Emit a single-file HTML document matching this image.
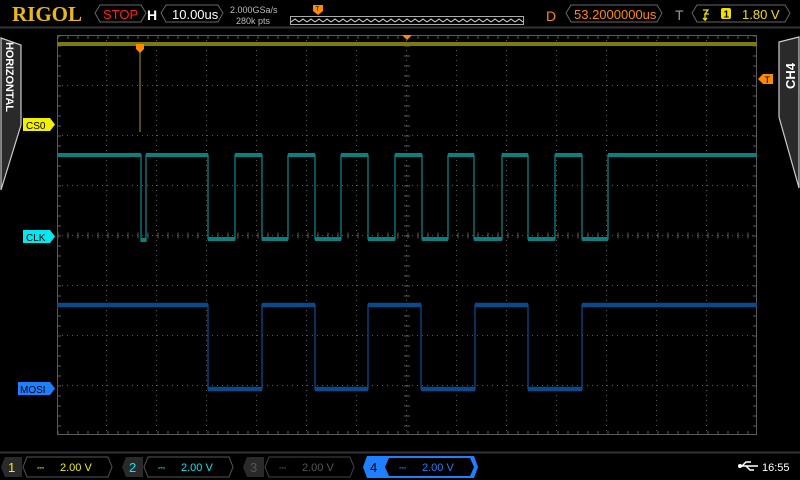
<!DOCTYPE html>
<html><head><meta charset="utf-8"><style>
html,body{margin:0;padding:0;background:#000;width:800px;height:480px;overflow:hidden}
svg{display:block}
</style></head><body>
<svg width="800" height="480" viewBox="0 0 800 480" xmlns="http://www.w3.org/2000/svg" font-family="Liberation Sans, sans-serif">
<defs>
<pattern id="zz" x="291" y="17" width="8" height="7" patternUnits="userSpaceOnUse">
<polyline points="0,5 4,2 8,5" fill="none" stroke="#ddd" stroke-width="1"/>
</pattern>
</defs>
<rect width="800" height="480" fill="#000"/>
<!-- top bar -->
<line x1="0" y1="27.5" x2="800" y2="27.5" stroke="#333" stroke-width="2"/>
<text x="12" y="21" style="font-family:'Liberation Serif',serif;font-weight:bold" font-size="21" fill="#e8b818" textLength="70" lengthAdjust="spacingAndGlyphs">RIGOL</text>
<path d="M100,5 H141 L146,13 L141,22 H100 L95,13 Z" fill="none" stroke="#666"/>
<text x="103" y="19" font-size="13" fill="#ff2020">STOP</text>
<text x="147" y="20" font-size="14" font-weight="bold" fill="#fff">H</text>
<path d="M166,5 H218 L223,13 L218,22 H166 L161,13 Z" fill="none" stroke="#666"/>
<text x="172" y="19" font-size="13" fill="#fff">10.00us</text>
<text x="230" y="13" font-size="9" fill="#bbb">2.000GSa/s</text>
<text x="236" y="24" font-size="9" fill="#bbb">280k pts</text>
<rect x="291" y="17" width="232" height="7" fill="url(#zz)"/>
<rect x="290.5" y="16.5" width="233" height="8" fill="none" stroke="#aaa"/>
<path d="M313,5 H323 V11 L318,15 L313,11 Z" fill="#ff8a00"/>
<text x="315.5" y="11" font-size="6" fill="#000">T</text>
<text x="546" y="21" font-size="14" fill="#ff8a00">D</text>
<path d="M571,5 H657 L662,13 L657,22 H571 L566,13 Z" fill="none" stroke="#666"/>
<text x="574" y="19" font-size="13" fill="#ff8a00">53.2000000us</text>
<text x="675" y="20" font-size="14" fill="#999">T</text>
<path d="M697,5 H785 L790,13 L785,22 H697 L692,13 Z" fill="none" stroke="#666"/>
<path d="M703,10 H708 L705,14 H709 M705,14 V20 L703,18 M705,20 L707,18" fill="none" stroke="#f0e000" stroke-width="1.3"/>
<rect x="721" y="8" width="10" height="11" rx="2" fill="#f0e000"/>
<text x="723.5" y="17.5" font-size="10" font-weight="bold" fill="#000">1</text>
<text x="742" y="19" font-size="13" fill="#f0e000">1.80 V</text>
<!-- side tabs -->
<path d="M1,38 L21,45 V125 L1,190 Z" fill="#2a2a2a" stroke="#ccc" stroke-width="1.2"/>
<text transform="translate(6,42) rotate(90)" font-size="11" font-weight="bold" fill="#fff" textLength="70">HORIZONTAL</text>
<path d="M799,37 L779,42 V117 L799,188 Z" fill="#2a2a2a" stroke="#ccc" stroke-width="1.2"/>
<text transform="translate(795,89) rotate(-90)" font-size="13" font-weight="bold" fill="#fff">CH4</text>
<!-- grid -->
<g stroke="#5a5a5a" stroke-dasharray="1 4">
<line x1="106.5" y1="35" x2="106.5" y2="435"/><line x1="156.5" y1="35" x2="156.5" y2="435"/>
<line x1="206.5" y1="35" x2="206.5" y2="435"/><line x1="256.5" y1="35" x2="256.5" y2="435"/>
<line x1="306.5" y1="35" x2="306.5" y2="435"/><line x1="356.5" y1="35" x2="356.5" y2="435"/>
<line x1="406.5" y1="35" x2="406.5" y2="435"/><line x1="456.5" y1="35" x2="456.5" y2="435"/>
<line x1="506.5" y1="35" x2="506.5" y2="435"/><line x1="556.5" y1="35" x2="556.5" y2="435"/>
<line x1="606.5" y1="35" x2="606.5" y2="435"/><line x1="656.5" y1="35" x2="656.5" y2="435"/>
<line x1="706.5" y1="35" x2="706.5" y2="435"/>
<line x1="57" y1="85.5" x2="757" y2="85.5"/><line x1="57" y1="135.5" x2="757" y2="135.5"/>
<line x1="57" y1="185.5" x2="757" y2="185.5"/><line x1="57" y1="235.5" x2="757" y2="235.5"/>
<line x1="57" y1="285.5" x2="757" y2="285.5"/><line x1="57" y1="335.5" x2="757" y2="335.5"/>
<line x1="57" y1="385.5" x2="757" y2="385.5"/>
</g>
<rect x="57.5" y="35.5" width="699" height="399" fill="none" stroke="#5a5a5a"/>
<g stroke="#5a5a5a" stroke-dasharray="1 9">
<line x1="57.5" y1="37" x2="757" y2="37" stroke-width="4"/>
<line x1="57.5" y1="433" x2="757" y2="433" stroke-width="4"/>
<line x1="57.5" y1="235.5" x2="757" y2="235.5" stroke-width="6"/>
<line x1="59" y1="35.5" x2="59" y2="435" stroke-width="4"/>
<line x1="755" y1="35.5" x2="755" y2="435" stroke-width="4"/>
<line x1="407" y1="35.5" x2="407" y2="435" stroke-width="6"/>
</g>
<!-- yellow trace -->
<rect x="57" y="42" width="700" height="4" fill="#7c7a0c"/>
<line x1="140" y1="46" x2="140" y2="132" stroke="#8a8010" stroke-width="1.2"/>
<path d="M136,44 H144 V49 L140,53 L136,49 Z" fill="#ff8a00"/>
<path d="M402,35 H412 L407,40 Z" fill="#ff8a00"/>
<path d="M763,74 H773 V84 H763 L758,79 Z" fill="#ff8a00"/>
<text x="764.5" y="83" font-size="9" fill="#000">T</text>
<!-- CLK -->
<path d="M57,155 H141 V241 H146 V155 H208 V239 H235 V155 H262 V239 H288 V155 H315 V239 H341 V155 H368 V239 H395 V155 H422 V239 H448 V155 H474 V239 H502 V155 H528 V239 H555 V155 H582 V239 H608 V155 H757" fill="none" stroke="#0a8080" stroke-width="1.3"/>
<path d="M57,155 H141 M146,155 H208 M235,155 H262 M288,155 H315 M341,155 H368 M395,155 H422 M448,155 H474 M502,155 H528 M555,155 H582 M608,155 H757 M141,240 H146 M208,239 H235 M262,239 H288 M315,239 H341 M368,239 H395 M422,239 H448 M474,239 H502 M528,239 H555 M582,239 H608" stroke="#0a8080" stroke-width="4" fill="none"/>
<!-- MOSI -->
<path d="M57,305 H208 V389 H262 V305 H315 V389 H368 V305 H421 V389 H475 V305 H528 V389 H582 V305 H757" fill="none" stroke="#0a4a8a" stroke-width="1.3"/>
<path d="M57,305 H208 M262,305 H315 M368,305 H421 M475,305 H528 M582,305 H757 M208,389 H262 M315,389 H368 M421,389 H475 M528,389 H582" stroke="#0a4a8a" stroke-width="4.5" fill="none"/>
<!-- labels -->
<path d="M23,118 H50 L55,124.5 L50,131 H23 Z" fill="#f0f000"/>
<text x="26" y="129" font-size="10" fill="#000">CS0</text>
<path d="M23,230 H50 L55,236.5 L50,243 H23 Z" fill="#00e8f0"/>
<text x="26" y="241" font-size="10" fill="#000">CLK</text>
<path d="M18,382 H50 L55,388.5 L50,395 H18 Z" fill="#1e80ff"/>
<text x="20" y="393" font-size="10" fill="#000">MOSI</text>
<!-- bottom -->
<line x1="0" y1="452.5" x2="800" y2="452.5" stroke="#333" stroke-width="2"/>
<g font-size="11">
<path d="M5,457 H22 V477 H5 L1,467 Z" fill="#2a2a2a"/><text x="8" y="472" font-size="13" fill="#f0f000">1</text>
<path d="M27,457 H108 L112,467 L108,477 H27 L23,467 Z" fill="none" stroke="#555"/>
<text x="37" y="471" font-size="9" fill="#f0f000">⎓</text><text x="60" y="471" fill="#f0f000">2.00 V</text>
<path d="M126,457 H143 V477 H126 L122,467 Z" fill="#2a2a2a"/><text x="129" y="472" font-size="13" fill="#00e8f0">2</text>
<path d="M148,457 H229 L233,467 L229,477 H148 L144,467 Z" fill="none" stroke="#555"/>
<text x="158" y="471" font-size="9" fill="#00e8f0">⎓</text><text x="181" y="471" fill="#00e8f0">2.00 V</text>
<path d="M247,457 H264 V477 H247 L243,467 Z" fill="#2a2a2a"/><text x="250" y="472" font-size="13" fill="#555">3</text>
<path d="M269,457 H350 L354,467 L350,477 H269 L265,467 Z" fill="none" stroke="#444"/>
<text x="279" y="471" font-size="9" fill="#555">⎓</text><text x="302" y="471" fill="#555">2.00 V</text>
<path d="M367,456 H474 L478,467 L474,478 H367 L363,467 Z" fill="#1e80ff"/>
<path d="M389,458 H470 L474,467 L470,476 H389 L385,467 Z" fill="#000"/>
<text x="370" y="472" font-size="13" fill="#000">4</text>
<text x="399" y="471" font-size="9" fill="#1e80ff">⎓</text><text x="422" y="471" fill="#1e80ff">2.00 V</text>
<path d="M739,466 H758 M742,466 L746,462 H751 M746,466 L750,470 H754" stroke="#fff" stroke-width="1.5" fill="none"/>
<circle cx="740" cy="466" r="2" fill="#fff"/>
<text x="762" y="471" fill="#fff">16:55</text>
</g>
</svg>
</body></html>
